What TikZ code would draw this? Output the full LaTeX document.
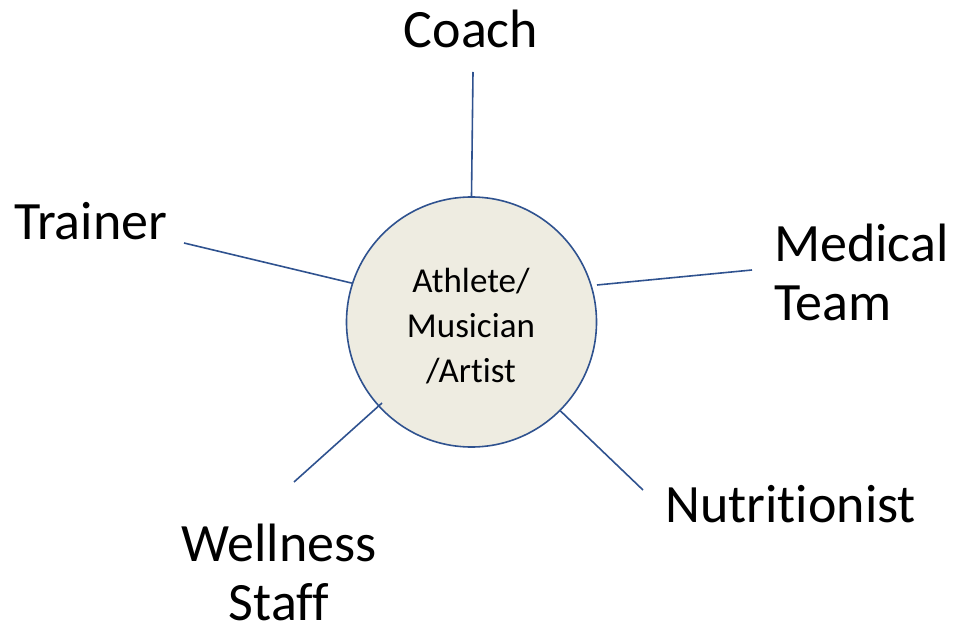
\documentclass[tikz,border=0pt]{standalone}
\usepackage{fontspec}
\setmainfont{Carlito}[Ligatures={NoCommon}]
\definecolor{edge}{RGB}{47,82,143}
\definecolor{disc}{RGB}{238,236,225}
\begin{document}
\begin{tikzpicture}[x=1pt,y=-1pt,
  big/.style={font=\fontsize{54}{59}\selectfont, inner sep=0pt, anchor=base},
  conn/.style={draw=edge, line width=1.6pt},
  hub/.style={circle, draw=edge, line width=1.6pt, fill=disc, minimum size=250pt, inner sep=0pt}]
\useasboundingbox (0,0) rectangle (956,636);
\node[hub] (c) at (471.5,322) {};
\node[font=\fontsize{35}{45}\selectfont, align=center, inner sep=0pt, anchor=base] (ct) at (471,382) {Athlete/\\Musician\\/Artist};
\node[big] (coach) at (471,48) {Coach};
\node[big, anchor=base west] (trainer) at (14,240) {Trainer};
\node[big, anchor=base west, align=left] (medical) at (774,321) {Medical\\Team};
\node[big, anchor=base west] (nutri) at (665,522) {Nutritionist};
\node[big, align=center] (well) at (279,620) {Wellness\\Staff};
\coordinate (coachEnd) at (473,72);
\coordinate (trainerEnd) at (184,243);
\coordinate (medEnd) at (752,270);
\coordinate (medIn) at (597,285);
\coordinate (nutriEnd) at (643,490);
\coordinate (wellEnd) at (294,482);
\coordinate (wellIn) at (382,403);
\draw[conn] (coachEnd) -- (c.90);
\draw[conn] (trainerEnd) -- (c.162.4);
\draw[conn] (medEnd) -- (medIn);
\draw[conn] (nutriEnd) -- (c.-45.8);
\draw[conn] (wellEnd) -- (wellIn);
\end{tikzpicture}
\end{document}
